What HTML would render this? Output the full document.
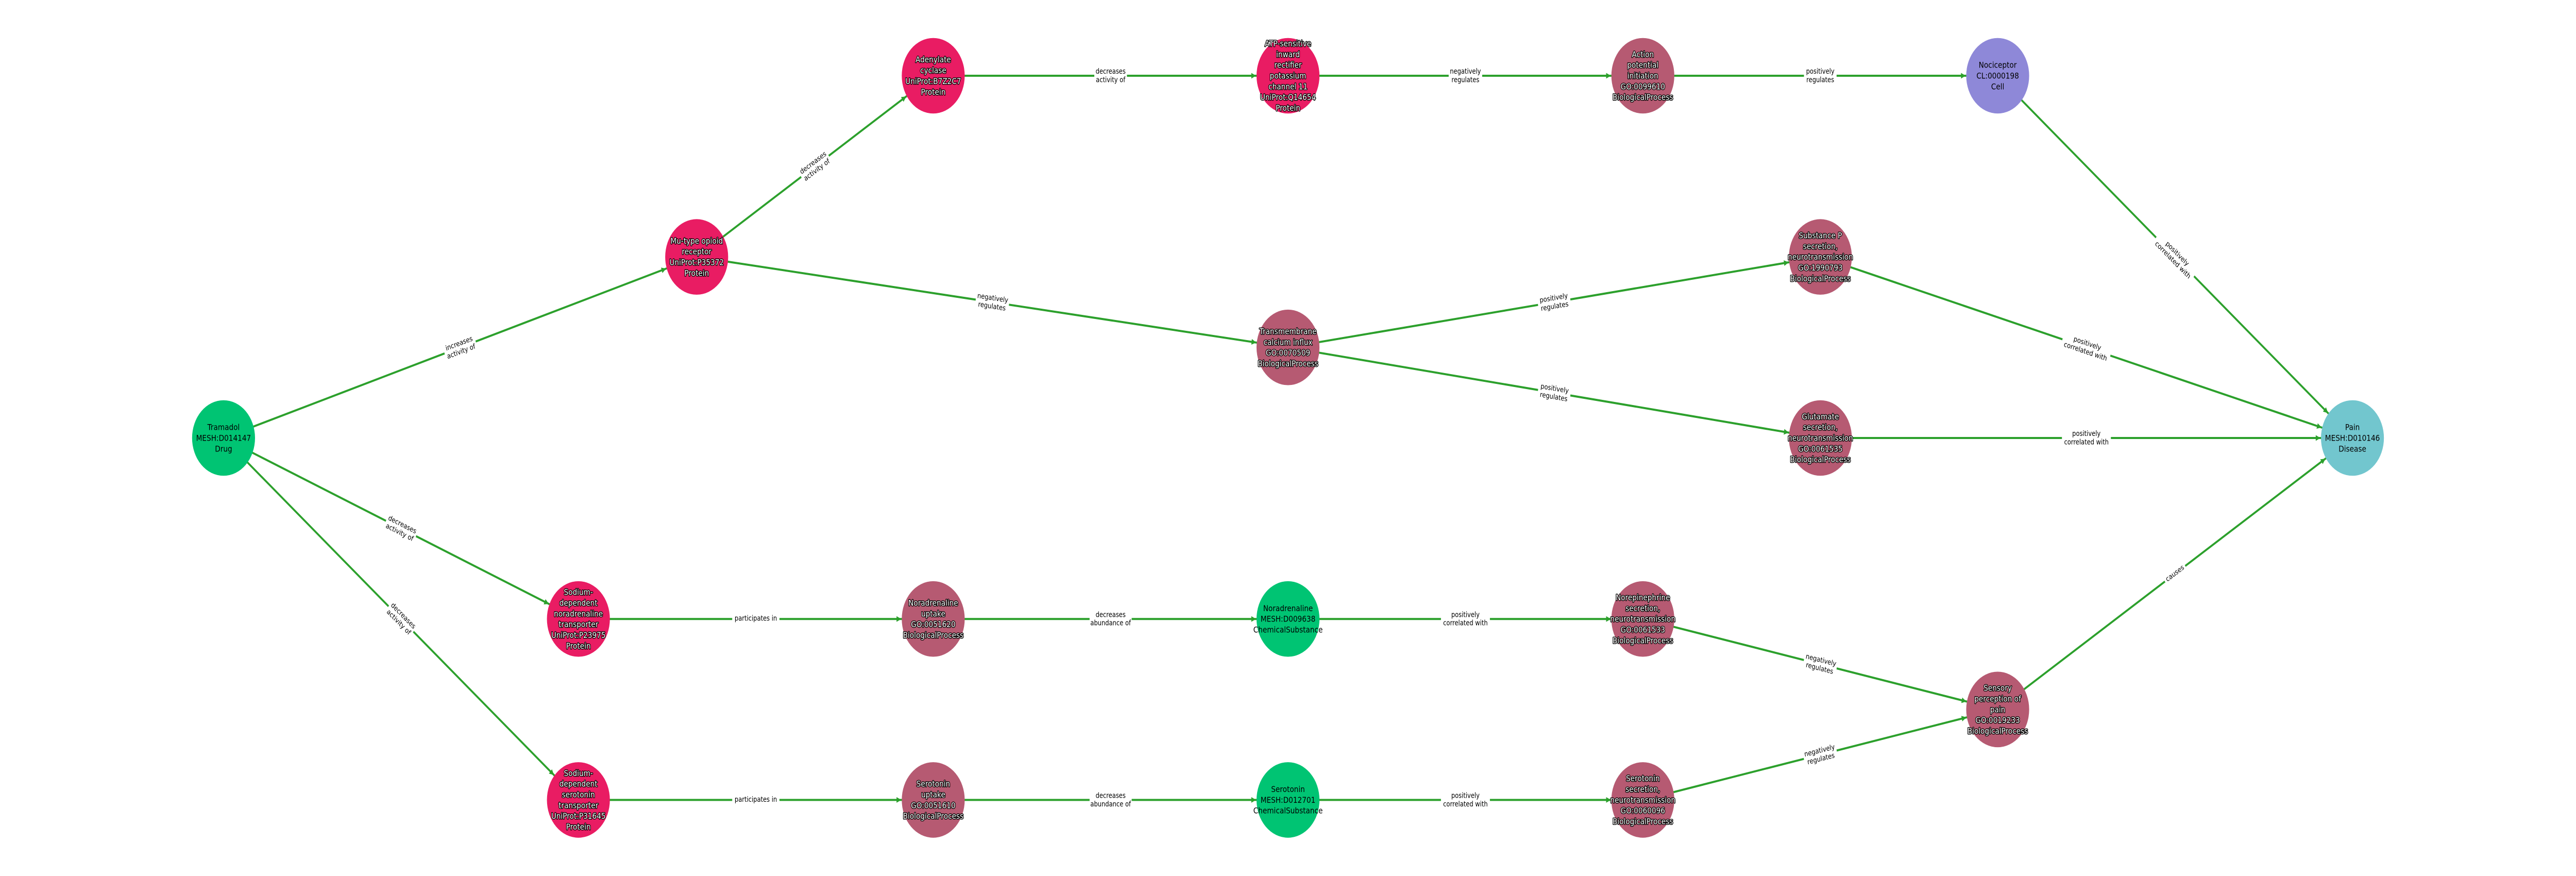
<!DOCTYPE html>
<html lang="en">
<head>
<meta charset="utf-8">
<title>Tramadol to Pain pathway</title>
<style>
html,body{margin:0;padding:0;background:#fff;width:100%;height:100%;overflow:hidden}
svg{display:block;width:100vw;height:100vh}
text{font-family:"DejaVu Sans","Liberation Sans",sans-serif;text-anchor:middle}
.e{stroke:#2ca02c;stroke-width:4;fill:none;marker-end:url(#a)}
.n text{font-size:16.4px;fill:#000}
.h text{fill:#fff;stroke:#000;stroke-width:2.8px;paint-order:stroke;stroke-linejoin:round}
.l text{font-size:13.8px;fill:#000}
.l rect{fill:#fff}
</style>
</head>
<body>
<svg viewBox="0 0 6000 1700" preserveAspectRatio="none">
<defs>
<marker id="a" markerUnits="userSpaceOnUse" markerWidth="24" markerHeight="24" refX="94.5" refY="12" orient="auto">
<path d="M9 6.5L20 12L9 17.5Z" fill="#2ca02c"/>
</marker>
</defs>
<rect width="6000" height="1700" fill="#fff"/>

<!-- edges -->
<line class="e" x1="520.7" y1="850" x2="1622.7" y2="498.6"/>
<line class="e" x1="520.7" y1="850" x2="1347.2" y2="1201.2"/>
<line class="e" x1="520.7" y1="850" x2="1347.2" y2="1552.4"/>
<line class="e" x1="1622.7" y1="498.6" x2="2173.7" y2="147"/>
<line class="e" x1="1622.7" y1="498.6" x2="3000" y2="674.2"/>
<line class="e" x1="2173.7" y1="147" x2="3000" y2="147"/>
<line class="e" x1="3000" y1="147" x2="3826.5" y2="147"/>
<line class="e" x1="3826.5" y1="147" x2="4653" y2="147"/>
<line class="e" x1="4653" y1="147" x2="5479.3" y2="850"/>
<line class="e" x1="3000" y1="674.2" x2="4240" y2="498.6"/>
<line class="e" x1="3000" y1="674.2" x2="4240" y2="850"/>
<line class="e" x1="4240" y1="498.6" x2="5479.3" y2="850"/>
<line class="e" x1="4240" y1="850" x2="5479.3" y2="850"/>
<line class="e" x1="1347.2" y1="1201.2" x2="2173.7" y2="1201.2"/>
<line class="e" x1="1347.2" y1="1552.4" x2="2173.7" y2="1552.4"/>
<line class="e" x1="2173.7" y1="1201.2" x2="3000" y2="1201.2"/>
<line class="e" x1="2173.7" y1="1552.4" x2="3000" y2="1552.4"/>
<line class="e" x1="3000" y1="1201.2" x2="3826.5" y2="1201.2"/>
<line class="e" x1="3000" y1="1552.4" x2="3826.5" y2="1552.4"/>
<line class="e" x1="3826.5" y1="1201.2" x2="4653" y2="1376.8"/>
<line class="e" x1="3826.5" y1="1552.4" x2="4653" y2="1376.8"/>
<line class="e" x1="4653" y1="1376.8" x2="5479.3" y2="850"/>

<!-- edge labels -->
<g class="l" transform="translate(1071.7,674.3) rotate(-17.69)"><rect x="-38" y="-20" width="76" height="40"/><text><tspan x="0" y="-3.8">increases</tspan><tspan x="0" y="12.4">activity of</tspan></text></g>
<g class="l" transform="translate(933.95,1025.6) rotate(23.02)"><rect x="-38" y="-20" width="76" height="40"/><text><tspan x="0" y="-3.8">decreases</tspan><tspan x="0" y="12.4">activity of</tspan></text></g>
<g class="l" transform="translate(933.95,1201.2) rotate(40.36)"><rect x="-38" y="-20" width="76" height="40"/><text><tspan x="0" y="-3.8">decreases</tspan><tspan x="0" y="12.4">activity of</tspan></text></g>
<g class="l" transform="translate(1898.2,322.8) rotate(-32.54)"><rect x="-38" y="-20" width="76" height="40"/><text><tspan x="0" y="-3.8">decreases</tspan><tspan x="0" y="12.4">activity of</tspan></text></g>
<g class="l" transform="translate(2311.35,586.4) rotate(7.27)"><rect x="-39" y="-20" width="78" height="40"/><text><tspan x="0" y="-3.8">negatively</tspan><tspan x="0" y="12.4">regulates</tspan></text></g>
<g class="l" transform="translate(2586.85,147)"><rect x="-38" y="-20" width="76" height="40"/><text><tspan x="0" y="-3.8">decreases</tspan><tspan x="0" y="12.4">activity of</tspan></text></g>
<g class="l" transform="translate(3413.25,147)"><rect x="-39" y="-20" width="78" height="40"/><text><tspan x="0" y="-3.8">negatively</tspan><tspan x="0" y="12.4">regulates</tspan></text></g>
<g class="l" transform="translate(4239.75,147)"><rect x="-38" y="-20" width="76" height="40"/><text><tspan x="0" y="-3.8">positively</tspan><tspan x="0" y="12.4">regulates</tspan></text></g>
<g class="l" transform="translate(5066.15,498.5) rotate(40.4)"><rect x="-58" y="-20" width="116" height="40"/><text><tspan x="0" y="-3.8">positively</tspan><tspan x="0" y="12.4">correlated with</tspan></text></g>
<g class="l" transform="translate(3620,586.4) rotate(-8.06)"><rect x="-38" y="-20" width="76" height="40"/><text><tspan x="0" y="-3.8">positively</tspan><tspan x="0" y="12.4">regulates</tspan></text></g>
<g class="l" transform="translate(3620,762.1) rotate(8.07)"><rect x="-38" y="-20" width="76" height="40"/><text><tspan x="0" y="-3.8">positively</tspan><tspan x="0" y="12.4">regulates</tspan></text></g>
<g class="l" transform="translate(4859.65,674.3) rotate(15.83)"><rect x="-58" y="-20" width="116" height="40"/><text><tspan x="0" y="-3.8">positively</tspan><tspan x="0" y="12.4">correlated with</tspan></text></g>
<g class="l" transform="translate(4859.65,850)"><rect x="-57" y="-20" width="114" height="40"/><text><tspan x="0" y="-3.8">positively</tspan><tspan x="0" y="12.4">correlated with</tspan></text></g>
<g class="l" transform="translate(1760.45,1201.2)"><rect x="-55" y="-14" width="110" height="28"/><text><tspan x="0" y="3.5">participates in</tspan></text></g>
<g class="l" transform="translate(1760.45,1552.4)"><rect x="-55" y="-14" width="110" height="28"/><text><tspan x="0" y="3.5">participates in</tspan></text></g>
<g class="l" transform="translate(2586.85,1201.2)"><rect x="-49" y="-20" width="98" height="40"/><text><tspan x="0" y="-3.8">decreases</tspan><tspan x="0" y="12.4">abundance of</tspan></text></g>
<g class="l" transform="translate(2586.85,1552.4)"><rect x="-49" y="-20" width="98" height="40"/><text><tspan x="0" y="-3.8">decreases</tspan><tspan x="0" y="12.4">abundance of</tspan></text></g>
<g class="l" transform="translate(3413.25,1201.2)"><rect x="-57" y="-20" width="114" height="40"/><text><tspan x="0" y="-3.8">positively</tspan><tspan x="0" y="12.4">correlated with</tspan></text></g>
<g class="l" transform="translate(3413.25,1552.4)"><rect x="-57" y="-20" width="114" height="40"/><text><tspan x="0" y="-3.8">positively</tspan><tspan x="0" y="12.4">correlated with</tspan></text></g>
<g class="l" transform="translate(4239.75,1289) rotate(12)"><rect x="-39" y="-20" width="78" height="40"/><text><tspan x="0" y="-3.8">negatively</tspan><tspan x="0" y="12.4">regulates</tspan></text></g>
<g class="l" transform="translate(4239.75,1464.6) rotate(-12)"><rect x="-39" y="-20" width="78" height="40"/><text><tspan x="0" y="-3.8">negatively</tspan><tspan x="0" y="12.4">regulates</tspan></text></g>
<g class="l" transform="translate(5066.15,1113.4) rotate(-32.52)"><rect x="-28" y="-13" width="56" height="26"/><text><tspan x="0" y="3.5">causes</tspan></text></g>

<!-- nodes -->
<g class="n" transform="translate(520.7,850)"><circle r="73.3" fill="#00c473"/><text><tspan x="0" y="-15.35">Tramadol</tspan><tspan x="0" y="5.5">MESH:D014147</tspan><tspan x="0" y="26.35">Drug</tspan></text></g>
<g class="n h" transform="translate(1622.7,498.6)"><circle r="73.3" fill="#e91c63"/><text><tspan x="0" y="-25.8">Mu-type opioid</tspan><tspan x="0" y="-4.9">receptor</tspan><tspan x="0" y="15.9">UniProt:P35372</tspan><tspan x="0" y="36.8">Protein</tspan></text></g>
<g class="n h" transform="translate(1347.2,1201.2)"><circle r="73.3" fill="#e91c63"/><text><tspan x="0" y="-46.6">Sodium-</tspan><tspan x="0" y="-25.8">dependent</tspan><tspan x="0" y="-4.9">noradrenaline</tspan><tspan x="0" y="15.9">transporter</tspan><tspan x="0" y="36.8">UniProt:P23975</tspan><tspan x="0" y="57.6">Protein</tspan></text></g>
<g class="n h" transform="translate(1347.2,1552.4)"><circle r="73.3" fill="#e91c63"/><text><tspan x="0" y="-46.6">Sodium-</tspan><tspan x="0" y="-25.8">dependent</tspan><tspan x="0" y="-4.9">serotonin</tspan><tspan x="0" y="15.9">transporter</tspan><tspan x="0" y="36.8">UniProt:P31645</tspan><tspan x="0" y="57.6">Protein</tspan></text></g>
<g class="n h" transform="translate(2173.7,147)"><circle r="73.3" fill="#e91c63"/><text><tspan x="0" y="-25.8">Adenylate</tspan><tspan x="0" y="-4.9">cyclase</tspan><tspan x="0" y="15.9">UniProt:B7Z2C7</tspan><tspan x="0" y="36.8">Protein</tspan></text></g>
<g class="n h" transform="translate(3000,147)"><circle r="73.3" fill="#e91c63"/><text><tspan x="0" y="-57.05">ATP-sensitive</tspan><tspan x="0" y="-36.2">inward</tspan><tspan x="0" y="-15.35">rectifier</tspan><tspan x="0" y="5.5">potassium</tspan><tspan x="0" y="26.35">channel 11</tspan><tspan x="0" y="47.2">UniProt:Q14654</tspan><tspan x="0" y="68.05">Protein</tspan></text></g>
<g class="n h" transform="translate(3000,674.2)"><circle r="73.3" fill="#b65a72"/><text><tspan x="0" y="-25.8">Transmembrane</tspan><tspan x="0" y="-4.9">calcium influx</tspan><tspan x="0" y="15.9">GO:0070509</tspan><tspan x="0" y="36.8">BiologicalProcess</tspan></text></g>
<g class="n h" transform="translate(2173.7,1201.2)"><circle r="73.3" fill="#b65a72"/><text><tspan x="0" y="-25.8">Noradrenaline</tspan><tspan x="0" y="-4.9">uptake</tspan><tspan x="0" y="15.9">GO:0051620</tspan><tspan x="0" y="36.8">BiologicalProcess</tspan></text></g>
<g class="n h" transform="translate(2173.7,1552.4)"><circle r="73.3" fill="#b65a72"/><text><tspan x="0" y="-25.8">Serotonin</tspan><tspan x="0" y="-4.9">uptake</tspan><tspan x="0" y="15.9">GO:0051610</tspan><tspan x="0" y="36.8">BiologicalProcess</tspan></text></g>
<g class="n" transform="translate(3000,1201.2)"><circle r="73.3" fill="#00c473"/><text><tspan x="0" y="-15.35">Noradrenaline</tspan><tspan x="0" y="5.5">MESH:D009638</tspan><tspan x="0" y="26.35">ChemicalSubstance</tspan></text></g>
<g class="n" transform="translate(3000,1552.4)"><circle r="73.3" fill="#00c473"/><text><tspan x="0" y="-15.35">Serotonin</tspan><tspan x="0" y="5.5">MESH:D012701</tspan><tspan x="0" y="26.35">ChemicalSubstance</tspan></text></g>
<g class="n h" transform="translate(3826.5,147)"><circle r="73.3" fill="#b65a72"/><text><tspan x="0" y="-36.2">Action</tspan><tspan x="0" y="-15.35">potential</tspan><tspan x="0" y="5.5">initiation</tspan><tspan x="0" y="26.35">GO:0099610</tspan><tspan x="0" y="47.2">BiologicalProcess</tspan></text></g>
<g class="n h" transform="translate(4240,498.6)"><circle r="73.3" fill="#b65a72"/><text><tspan x="0" y="-36.2">Substance P</tspan><tspan x="0" y="-15.35">secretion,</tspan><tspan x="0" y="5.5">neurotransmission</tspan><tspan x="0" y="26.35">GO:1990793</tspan><tspan x="0" y="47.2">BiologicalProcess</tspan></text></g>
<g class="n h" transform="translate(4240,850)"><circle r="73.3" fill="#b65a72"/><text><tspan x="0" y="-36.2">Glutamate</tspan><tspan x="0" y="-15.35">secretion,</tspan><tspan x="0" y="5.5">neurotransmission</tspan><tspan x="0" y="26.35">GO:0061535</tspan><tspan x="0" y="47.2">BiologicalProcess</tspan></text></g>
<g class="n" transform="translate(4653,147)"><circle r="73.3" fill="#8e88d8"/><text><tspan x="0" y="-15.35">Nociceptor</tspan><tspan x="0" y="5.5">CL:0000198</tspan><tspan x="0" y="26.35">Cell</tspan></text></g>
<g class="n h" transform="translate(3826.5,1201.2)"><circle r="73.3" fill="#b65a72"/><text><tspan x="0" y="-36.2">Norepinephrine</tspan><tspan x="0" y="-15.35">secretion,</tspan><tspan x="0" y="5.5">neurotransmission</tspan><tspan x="0" y="26.35">GO:0061533</tspan><tspan x="0" y="47.2">BiologicalProcess</tspan></text></g>
<g class="n h" transform="translate(3826.5,1552.4)"><circle r="73.3" fill="#b65a72"/><text><tspan x="0" y="-36.2">Serotonin</tspan><tspan x="0" y="-15.35">secretion,</tspan><tspan x="0" y="5.5">neurotransmission</tspan><tspan x="0" y="26.35">GO:0060096</tspan><tspan x="0" y="47.2">BiologicalProcess</tspan></text></g>
<g class="n h" transform="translate(4653,1376.8)"><circle r="73.3" fill="#b65a72"/><text><tspan x="0" y="-36.2">Sensory</tspan><tspan x="0" y="-15.35">perception of</tspan><tspan x="0" y="5.5">pain</tspan><tspan x="0" y="26.35">GO:0019233</tspan><tspan x="0" y="47.2">BiologicalProcess</tspan></text></g>
<g class="n" transform="translate(5479.3,850)"><circle r="73.3" fill="#72c6ce"/><text><tspan x="0" y="-15.35">Pain</tspan><tspan x="0" y="5.5">MESH:D010146</tspan><tspan x="0" y="26.35">Disease</tspan></text></g>
</svg>
</body>
</html>
